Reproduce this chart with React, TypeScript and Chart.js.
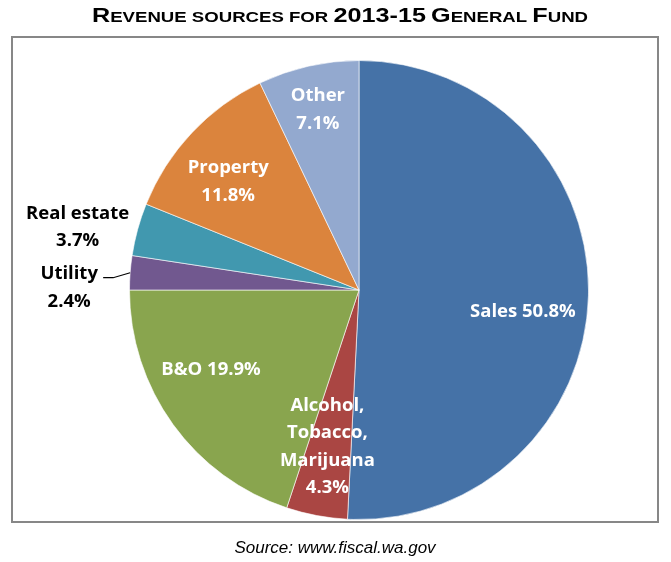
import React, { useEffect, useRef } from "react";
import { Chart, registerables } from "chart.js";

Chart.register(...registerables);

const titleText = "Revenue sources for 2013-15 General Fund";
const sourceText = "Source: www.fiscal.wa.gov";

const categories = ["Sales", "Alcohol, Tobacco, Marijuana", "B&O", "Utility", "Real estate", "Property", "Other"];
const shares = [50.8, 4.3, 19.9, 2.4, 3.7, 11.8, 7.1];
const sliceColors = ["#4572A7", "#AA4643", "#89A54E", "#71588F", "#4198AF", "#DB843D", "#93A9CF"];

type Placement = { outside: boolean; frac: number; dx: number; dy: number; inline: boolean; leader?: boolean };
const placements: Placement[] = [
  { outside: false, frac: 0.71, dx: 1, dy: 18, inline: true },
  { outside: false, frac: 0.7, dx: -2, dy: -1, inline: false },
  { outside: false, frac: 0.72, dx: -14, dy: -17, inline: true },
  { outside: true, frac: 1, dx: -61, dy: 15, inline: false, leader: true },
  { outside: true, frac: 1, dx: -60, dy: -2, inline: false },
  { outside: false, frac: 0.74, dx: -7, dy: 8, inline: false },
  { outside: false, frac: 0.81, dx: 0, dy: 1, inline: false },
];

const LABEL_FONT = "bold 18.5px 'Open Sans'";
const LINE_H = 27.5;

function labelLines(i: number): string[] {
  const name = categories[i];
  const val = shares[i].toFixed(1) + "%";
  if (placements[i].inline) return [name + " " + val];
  const parts = name.split(", ");
  const lines = parts.map((p, k) => (k < parts.length - 1 ? p + "," : p));
  lines.push(val);
  return lines;
}

const framePlugin = {
  id: "frame",
  beforeDatasetsDraw(chart: any) {
    const ctx = chart.ctx;
    ctx.save();
    ctx.strokeStyle = "#878787";
    ctx.lineWidth = 2;
    ctx.strokeRect(12, 37, 646, 485);
    ctx.restore();
  },
  afterDraw(chart: any) {
    const ctx = chart.ctx;
    ctx.save();
    const big = 21;
    const small = 15.5;
    const fam = "'Liberation Sans'";
    const segs: { t: string; s: number }[] = [];
    for (const ch of titleText) {
      const isBig = (ch >= "A" && ch <= "Z") || (ch >= "0" && ch <= "9") || ch === "-";
      const s = isBig ? big : small;
      const t = ch.toUpperCase();
      const last = segs[segs.length - 1];
      if (last && last.s === s) last.t += t;
      else segs.push({ t, s });
    }
    let total = 0;
    for (const sg of segs) {
      ctx.font = `bold ${sg.s}px ${fam}`;
      total += ctx.measureText(sg.t).width;
    }
    const target = 496;
    const sx = target / total;
    ctx.translate(340 - target / 2, 22);
    ctx.scale(sx, 1);
    ctx.fillStyle = "#000";
    ctx.textBaseline = "alphabetic";
    ctx.textAlign = "left";
    let x = 0;
    for (const sg of segs) {
      ctx.font = `bold ${sg.s}px ${fam}`;
      ctx.fillText(sg.t, x, 0);
      x += ctx.measureText(sg.t).width;
    }
    ctx.restore();

    ctx.save();
    ctx.font = "italic 17px 'Liberation Sans'";
    ctx.fillStyle = "#000";
    ctx.textAlign = "center";
    ctx.textBaseline = "alphabetic";
    ctx.fillText(sourceText, 335, 553);
    ctx.restore();
  },
};

const labelPlugin = {
  id: "pieLabels",
  afterDatasetsDraw(chart: any) {
    const ctx = chart.ctx;
    const meta = chart.getDatasetMeta(0);
    ctx.save();
    ctx.font = LABEL_FONT;
    ctx.textAlign = "center";
    ctx.textBaseline = "middle";
    meta.data.forEach((arc: any, i: number) => {
      const { x, y, startAngle, endAngle, outerRadius } = arc.getProps(
        ["x", "y", "startAngle", "endAngle", "outerRadius"],
        true
      );
      const mid = (startAngle + endAngle) / 2;
      const p = placements[i];
      const ax = x + Math.cos(mid) * outerRadius * p.frac;
      const ay = y + Math.sin(mid) * outerRadius * p.frac;
      const cx = ax + p.dx;
      const cy = ay + p.dy;
      if (p.leader) {
        ctx.strokeStyle = "#000";
        ctx.lineWidth = 1.2;
        ctx.beginPath();
        ctx.moveTo(ax, ay);
        ctx.lineTo(ax - 17, ay + 5);
        ctx.lineTo(ax - 27, ay + 5);
        ctx.stroke();
      }
      const lines = labelLines(i);
      ctx.fillStyle = p.outside ? "#000" : "#fff";
      lines.forEach((ln, k) => {
        ctx.fillText(ln, cx, cy + (k - (lines.length - 1) / 2) * LINE_H);
      });
    });
    ctx.restore();
  },
};

export default function App() {
  const ref = useRef<HTMLCanvasElement | null>(null);
  useEffect(() => {
    if (!ref.current) return;
    const chart = new Chart(ref.current, {
      type: "pie",
      data: {
        labels: categories,
        datasets: [
          {
            data: shares,
            backgroundColor: sliceColors,
            borderColor: "rgba(255,255,255,0.6)",
            borderWidth: 1,
          },
        ],
      },
      options: {
        responsive: false,
        devicePixelRatio: 1,
        animation: false,
        layout: { padding: { left: 129, right: 82, top: 60, bottom: 42 } },
        plugins: {
          legend: { display: false },
          tooltip: { enabled: false },
          title: { display: false },
        },
      },
      plugins: [framePlugin, labelPlugin],
    });
    return () => chart.destroy();
  }, []);
  return (
    <div style={{ position: "absolute", left: 0, top: 0, width: 671, height: 562, background: "#fff" }}>
      <canvas ref={ref} width={671} height={562} style={{ display: "block" }} />
    </div>
  );
}
